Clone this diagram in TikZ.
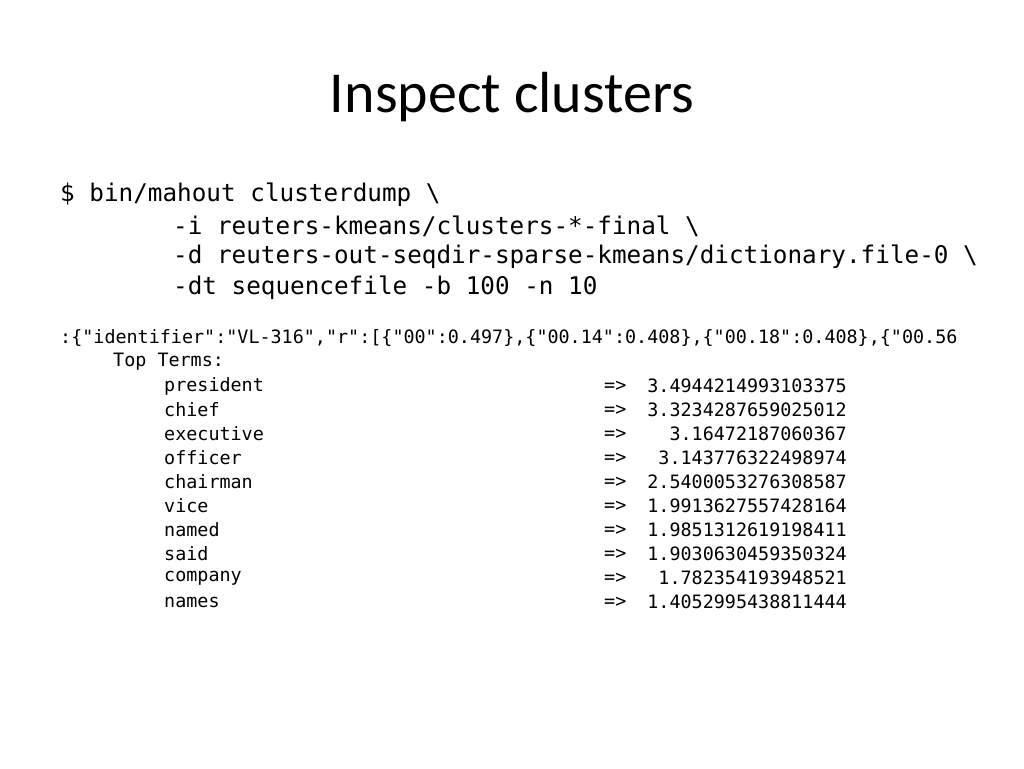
\documentclass[tikz,border=0pt]{standalone}
\usepackage{fontspec}
\setmainfont{Carlito}
\setmonofont{DejaVu Sans Mono}
\begin{document}
\begin{tikzpicture}[x=1pt,y=-1pt,
 cmd/.style={anchor=west,inner sep=0pt,font=\fontsize{24.3}{28}\ttfamily},
 outtxt/.style={anchor=west,inner sep=0pt,font=\fontsize{18.4}{22}\ttfamily},
 num/.style={anchor=east,inner sep=0pt,font=\fontsize{18.4}{22}\ttfamily}]
\useasboundingbox (0,0) rectangle (1024,768);
\node[inner sep=0pt,font=\fontsize{58}{64}\selectfont] (title) at (512,97) {Inspect clusters};
\node[cmd] (c1) at (60,195) {\$ bin/mahout clusterdump \textbackslash};
\node[cmd] (c2) at (173,226) {-i reuters-kmeans/clusters-*-final \textbackslash};
\node[cmd] (c3) at (173,257) {-d reuters-out-seqdir-sparse-kmeans/dictionary.file-0 \textbackslash};
\node[cmd] (c4) at (173,288) {-dt sequencefile -b 100 -n 10};
\node[outtxt] (o1) at (60,338) {:\{"identifier":"VL-316","r":[\{"00":0.497\},\{"00.14":0.408\},\{"00.18":0.408\},\{"00.56};
\node[outtxt] (o2) at (113,362) {Top Terms:};
\foreach \w/\v [count=\i] in {president/3.4944214993103375,chief/3.3234287659025012,executive/3.16472187060367,officer/3.143776322498974,chairman/2.5400053276308587,vice/1.9913627557428164,named/1.9851312619198411,said/1.9030630459350324,company/1.782354193948521,names/1.4052995438811444}{
 \node[outtxt] (w\i) at (164,362+24*\i) {\w};
 \node[outtxt] (a\i) at (604,362+24*\i) {=>};
 \node[num] (n\i) at (847,362+24*\i) {\v};
}
\end{tikzpicture}
\end{document}
